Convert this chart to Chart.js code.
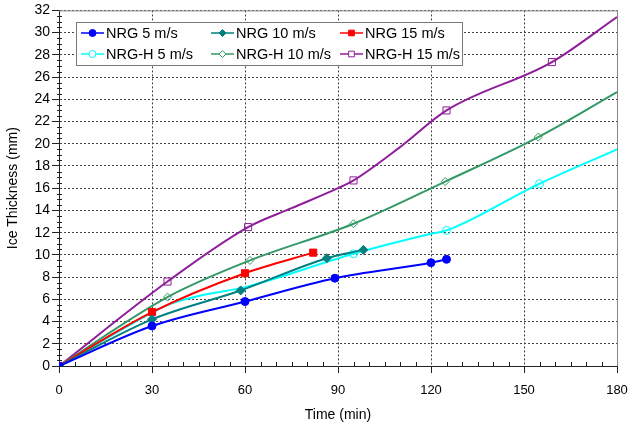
<!DOCTYPE html>
<html>
<head>
<meta charset="utf-8">
<script src="https://cdn.jsdelivr.net/npm/chart.js@4/dist/chart.umd.min.js"></script>
<style>
  html, body { margin: 0; padding: 0; background: #fff; }
  #wrap { width: 628px; height: 430px; }
</style>
</head>
<body>
<div id="wrap"><canvas id="ice"></canvas></div>
<script>
// values (time in min, thickness in mm)
const tNrg5 = [0, 30, 60, 89, 120, 125];
const nrg5 = [0, 3.6, 5.8, 7.9, 9.3, 9.6];

const tNrg10 = [0, 30, 58.6, 86.4, 98.2];
const nrg10 = [0, 4.2, 6.8, 9.7, 10.45];

const tNrg15 = [0, 30, 60, 82];
const nrg15 = [0, 4.85, 8.35, 10.2];

const tNrgH5 = [0, 30, 35, 45, 60, 95, 120, 125, 150, 155, 180];
const nrgH5 = [0, 4.8, 5.5, 6.3, 7.1, 10.1, 11.9, 12.2, 15.7, 16.4, 19.5];
const markNrgH5 = [0, 95, 125, 155];

const tNrgH10 = [0, 35, 61.6, 95, 124.6, 154.6, 180];
const nrgH10 = [0, 6.2, 9.5, 12.8, 16.6, 20.6, 24.65];
const markNrgH10 = [0, 35, 61.6, 95, 124.6, 154.6];

const tNrgH15 = [0, 35, 61, 75, 90, 95, 110, 125, 159, 180];
const nrgH15 = [0, 7.6, 12.5, 14.2, 16.0, 16.7, 19.7, 23.0, 27.35, 31.4];
const markNrgH15 = [0, 35, 61, 95, 125, 159];

const xTicks = [0, 30, 60, 90, 120, 150, 180];

function pts(ts, vs) {
    return ts.map(function(t, i) { return {x: t, y: vs[i]}; });
}

function series(label, ts, vs, color, style, radius, open, marks) {
    return {
        label: label,
        data: pts(ts, vs),
        borderColor: color,
        backgroundColor: open ? 'rgba(255,255,255,0)' : color,
        pointBorderColor: color,
        pointBackgroundColor: open ? 'rgba(255,255,255,0)' : color,
        pointStyle: style,
        pointBorderWidth: 1,
        pointRadius: function(ctx) {
            if (!marks) return radius;
            const p = ctx.raw;
            return p && marks.indexOf(p.x) >= 0 ? radius : 0;
        },
        borderWidth: 2,
        cubicInterpolationMode: 'monotone',
        _open: open
    };
}

const datasets = [
    series('NRG 5 m/s', tNrg5, nrg5, '#0000ff', 'circle', 4, false),
    series('NRG 10 m/s', tNrg10, nrg10, '#008080', 'rectRot', 4.5, false),
    series('NRG 15 m/s', tNrg15, nrg15, '#ff0000', 'rect', 5, false),
    series('NRG-H 5 m/s', tNrgH5, nrgH5, '#00ffff', 'circle', 4, true, markNrgH5),
    series('NRG-H 10 m/s', tNrgH10, nrgH10, '#339966', 'rectRot', 4, true, markNrgH10),
    series('NRG-H 15 m/s', tNrgH15, nrgH15, '#8e1e9a', 'rect', 5, true, markNrgH15)
];

const FONT = "'Liberation Sans', Arial, sans-serif";
const legendCols = [81, 211, 340];
const legendRows = [33, 54];

// frame, minor ticks and the legend box
const framePlugin = {
    id: 'frame',
    beforeDatasetsDraw: function(chart) {
        const c = chart.ctx, a = chart.chartArea;
        const xs = chart.scales.x, ys = chart.scales.y;
        c.save();
        c.lineWidth = 1;
        c.strokeStyle = '#888';
        c.beginPath();
        c.moveTo(a.left, a.top + 0.5);
        c.lineTo(a.right + 0.5, a.top + 0.5);
        c.lineTo(a.right + 0.5, a.bottom);
        c.stroke();
        c.strokeStyle = '#222';
        c.beginPath();
        for (let v = 0.5; v < 32; v += 0.5) {
            if (v % 2 === 0) continue;
            const y = Math.round(ys.getPixelForValue(v)) + 0.5;
            c.moveTo(a.left - 2, y);
            c.lineTo(a.left + 3, y);
        }
        for (let t = 5; t < 180; t += 5) {
            if (t % 30 === 0) continue;
            const x = Math.round(xs.getPixelForValue(t)) + 0.5;
            c.moveTo(x, a.bottom);
            c.lineTo(x, a.bottom - 4);
        }
        c.stroke();
        c.restore();
    },
    afterDraw: function(chart) {
        const c = chart.ctx;
        const box = {x: 76.5, y: 22.5, w: 386, h: 43};
        c.save();
        c.fillStyle = '#fff';
        c.fillRect(box.x, box.y, box.w, box.h);
        c.strokeStyle = '#777';
        c.lineWidth = 1;
        c.strokeRect(box.x, box.y, box.w, box.h);
        c.font = '14.5px ' + FONT;
        c.textBaseline = 'middle';
        chart.data.datasets.forEach(function(ds, i) {
            const x = legendCols[i % 3], y = legendRows[Math.floor(i / 3)];
            c.strokeStyle = ds.borderColor;
            c.lineWidth = 1.5;
            c.beginPath();
            c.moveTo(x, y);
            c.lineTo(x + 23, y);
            c.stroke();
            c.fillStyle = ds._open ? '#fff' : ds.borderColor;
            c.lineWidth = 1;
            Chart.helpers.drawPoint(c, {
                pointStyle: ds.pointStyle,
                radius: ds.pointStyle === 'rect' ? 4 : 3.5,
                borderWidth: 1
            }, x + 11.5, y);
            c.fillStyle = '#000';
            c.fillText(ds.label, x + 25, y + 1);
        });
        c.restore();
    }
};

let ctx = document.getElementById('ice').getContext('2d');

let iceChart = new Chart(ctx, {
    type: 'line',
    data: { datasets: datasets },
    plugins: [framePlugin],
    options: {
        responsive: true,
        maintainAspectRatio: false,
        animation: false,
        layout: { padding: { left: 0, right: 2, top: 10, bottom: 0 } },
        plugins: {
            legend: { display: false },
            tooltip: { enabled: false }
        },
        scales: {
            x: {
                type: 'linear',
                min: 0,
                max: 180,
                afterFit: function(scale) {
                    scale.height = 64;
                    scale.paddingRight = 11;
                },
                afterBuildTicks: function(scale) {
                    scale.ticks = xTicks.map(function(v) { return {value: v}; });
                },
                ticks: {
                    color: '#000',
                    font: { family: FONT, size: 13 },
                    padding: 10,
                    maxRotation: 0
                },
                grid: {
                    color: '#444',
                    lineWidth: 1,
                    tickLength: 7,
                    tickColor: '#222'
                },
                border: { display: true, color: '#222', width: 1, dash: [2, 2] },
                title: {
                    display: true,
                    text: 'Time (min)',
                    color: '#000',
                    font: { family: FONT, size: 14 },
                    padding: { top: 0, bottom: 6 }
                }
            },
            y: {
                min: 0,
                max: 32,
                afterFit: function(scale) { scale.width = 59; },
                ticks: {
                    stepSize: 2,
                    color: '#000',
                    font: { family: FONT, size: 14 },
                    padding: 2
                },
                grid: {
                    color: '#444',
                    lineWidth: 1,
                    tickLength: 7,
                    tickColor: '#222'
                },
                border: { display: true, color: '#222', width: 1, dash: [2, 2] },
                title: {
                    display: true,
                    text: 'Ice Thickness (mm)',
                    color: '#000',
                    font: { family: FONT, size: 14 },
                    padding: { top: 5, bottom: 0 }
                }
            }
        }
    }
});
</script>
</body>
</html>
